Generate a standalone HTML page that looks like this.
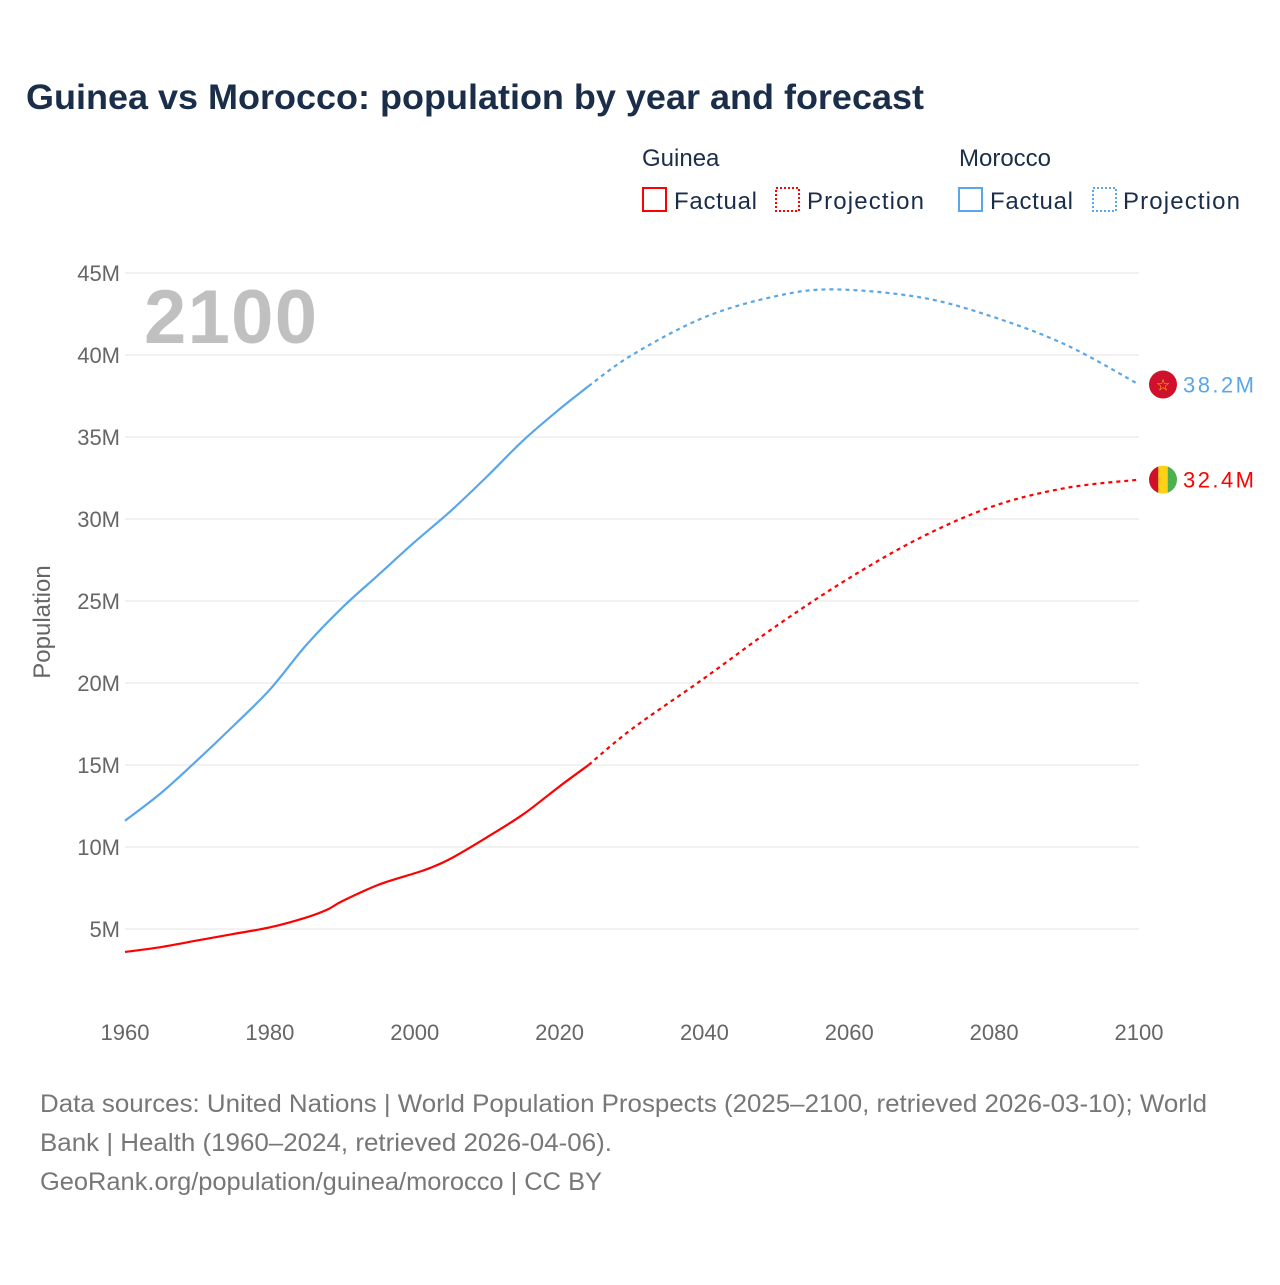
<!DOCTYPE html>
<html><head><meta charset="utf-8">
<style>
body{margin:0;background:#fff;font-family:"Liberation Sans",sans-serif;}
svg text{font-family:"Liberation Sans",sans-serif;}
</style></head>
<body>
<svg id="chart" width="1280" height="1280" viewBox="0 0 1280 1280" xmlns="http://www.w3.org/2000/svg">
<rect width="1280" height="1280" fill="#fff"/>
<text x="26" y="109" font-size="35" font-weight="bold" fill="#1a2e4a" textLength="898" lengthAdjust="spacingAndGlyphs">Guinea vs Morocco: population by year and forecast</text>
<g font-size="24" fill="#1a2e4a">
<text x="642" y="166">Guinea</text>
<text x="959" y="166">Morocco</text>
<g><rect x="643" y="188" width="23" height="23" fill="none" stroke="#ff0000" stroke-width="2"/><text x="674" y="209" textLength="83">Factual</text></g>
<g><rect x="776" y="188" width="23" height="23" fill="none" stroke="#ff0000" stroke-width="2" stroke-dasharray="2,2"/><text x="807" y="209" textLength="117">Projection</text></g>
<g><rect x="959" y="188" width="23" height="23" fill="none" stroke="#5aa6ea" stroke-width="2"/><text x="990" y="209" textLength="83">Factual</text></g>
<g><rect x="1093" y="188" width="23" height="23" fill="none" stroke="#5aa6ea" stroke-width="2" stroke-dasharray="2,2"/><text x="1123" y="209" textLength="117">Projection</text></g>
</g>
<g id="grid"></g>
<g id="yaxis"></g>
<g id="xaxis"></g>
<text transform="translate(50,622) rotate(-90)" text-anchor="middle" font-size="24" fill="#666">Population</text>
<text x="144" y="343" font-size="76" font-weight="bold" fill="#c0c0c0" textLength="173">2100</text>
<g id="series"></g>
<g font-size="25" fill="#777">
<text x="40" y="1112" textLength="1167" lengthAdjust="spacingAndGlyphs">Data sources: United Nations | World Population Prospects (2025–2100, retrieved 2026-03-10); World</text>
<text x="40" y="1151" textLength="572" lengthAdjust="spacingAndGlyphs">Bank | Health (1960–2024, retrieved 2026-04-06).</text>
<text x="40" y="1190" textLength="562" lengthAdjust="spacingAndGlyphs">GeoRank.org/population/guinea/morocco | CC BY</text>
</g>
</svg>
<script>
const yTicks=[5,10,15,20,25,30,35,40,45];
const xTicks=[1960,1980,2000,2020,2040,2060,2080,2100];
const moroccoFactYears=[1960,1965,1970,1975,1980,1985,1990,1995,2000,2005,2010,2015,2020,2024];
const moroccoFactVals=[11.6,13.3,15.3,17.4,19.6,22.3,24.6,26.6,28.6,30.5,32.6,34.8,36.7,38.1];
const moroccoProjYears=[2024,2030,2040,2050,2058,2070,2080,2090,2100];
const moroccoProjVals=[38.1,40.0,42.3,43.6,44.0,43.5,42.3,40.6,38.2];
const guineaFactYears=[1960,1965,1970,1975,1980,1985,1988,1990,1995,2000,2002,2005,2010,2015,2020,2024];
const guineaFactVals=[3.6,3.9,4.3,4.7,5.1,5.7,6.2,6.7,7.7,8.4,8.7,9.3,10.6,12.0,13.7,15.0];
const guineaProjYears=[2024,2030,2040,2050,2060,2070,2080,2090,2100];
const guineaProjVals=[15.0,17.2,20.3,23.5,26.4,28.9,30.8,31.9,32.4];
const NS="http://www.w3.org/2000/svg";
function x(yr){return 125+(yr-1960)*(1139-125)/140;}
function y(v){return 1011-v*(1011-929)/5;}
function mk(tag,attrs,parent){const e=document.createElementNS(NS,tag);for(const k in attrs)e.setAttribute(k,attrs[k]);parent.appendChild(e);return e;}
const grid=document.getElementById('grid'),ya=document.getElementById('yaxis'),xa=document.getElementById('xaxis'),ser=document.getElementById('series');
yTicks.forEach(t=>{
  const l=mk('line',{x1:125,x2:1139,y1:y(t),y2:y(t),stroke:'#e6e6e6','stroke-width':1},grid);
  
  
  const tx=mk('text',{x:120,y:y(t)+8,'text-anchor':'end','font-size':22,fill:'#666'},ya);
  tx.textContent=t+'M';
  
  
});
xTicks.forEach(t=>{
  const tx=mk('text',{x:x(t),y:1040,'text-anchor':'middle','font-size':22,fill:'#666'},xa);
  tx.textContent=t;
  
  
});
function smooth(ys,vs){
  const p=ys.map((a,i)=>[x(a),y(vs[i])]);
  let d='M'+p[0][0]+','+p[0][1];
  for(let i=0;i<p.length-1;i++){
    const p0=p[i-1]||p[i],p1=p[i],p2=p[i+1],p3=p[i+2]||p2;
    const c1=[p1[0]+(p2[0]-p0[0])/6,p1[1]+(p2[1]-p0[1])/6];
    const c2=[p2[0]-(p3[0]-p1[0])/6,p2[1]-(p3[1]-p1[1])/6];
    d+=' C'+c1+' '+c2+' '+p2;
  }
  return d;
}
function line(ys,vs,col,dash,name){
  const a={d:smooth(ys,vs),fill:'none',stroke:col,'stroke-width':2.2};
  if(dash)a['stroke-dasharray']='4,4';
  const e=mk('path',a,ser);
  
  
}
line(moroccoFactYears,moroccoFactVals,'#5aa6ea',false,'morocco-factual-line');
line(moroccoProjYears,moroccoProjVals,'#5aa6ea',true,'morocco-projection-line');
line(guineaFactYears,guineaFactVals,'#ff0000',false,'guinea-factual-line');
line(guineaProjYears,guineaProjVals,'#ff0000',true,'guinea-projection-line');
const mv=moroccoProjVals[moroccoProjVals.length-1],gv=guineaProjVals[guineaProjVals.length-1];
const mx=x(2100)+24,my=y(mv),gy=y(gv);
const mf=mk('g',{},ser);


mk('circle',{cx:mx,cy:my,r:14,fill:'#d0112b'},mf);
const st=mk('text',{x:mx,y:my+6,'text-anchor':'middle','font-size':16,fill:'#ffd200'},mf);st.textContent='☆';
const ml=mk('text',{x:mx+20,y:my+8,'font-size':22,fill:'#5aa6ea',textLength:71},ser);
ml.textContent=mv.toFixed(1)+'M';


const gf=mk('g',{},ser);


mk('clipPath',{id:'gc'},gf);
mk('circle',{cx:mx,cy:gy,r:14},gf.querySelector('clipPath'));
const gg=mk('g',{'clip-path':'url(#gc)'},gf);
mk('rect',{x:mx-14,y:gy-14,width:9.4,height:28,fill:'#ce1126'},gg);
mk('rect',{x:mx-4.7,y:gy-14,width:9.4,height:28,fill:'#fcd116'},gg);
mk('rect',{x:mx+4.7,y:gy-14,width:9.4,height:28,fill:'#4caf50'},gg);
const gl=mk('text',{x:mx+20,y:gy+8,'font-size':22,fill:'#ff0000',textLength:71},ser);
gl.textContent=gv.toFixed(1)+'M';


</script>
</body></html>
